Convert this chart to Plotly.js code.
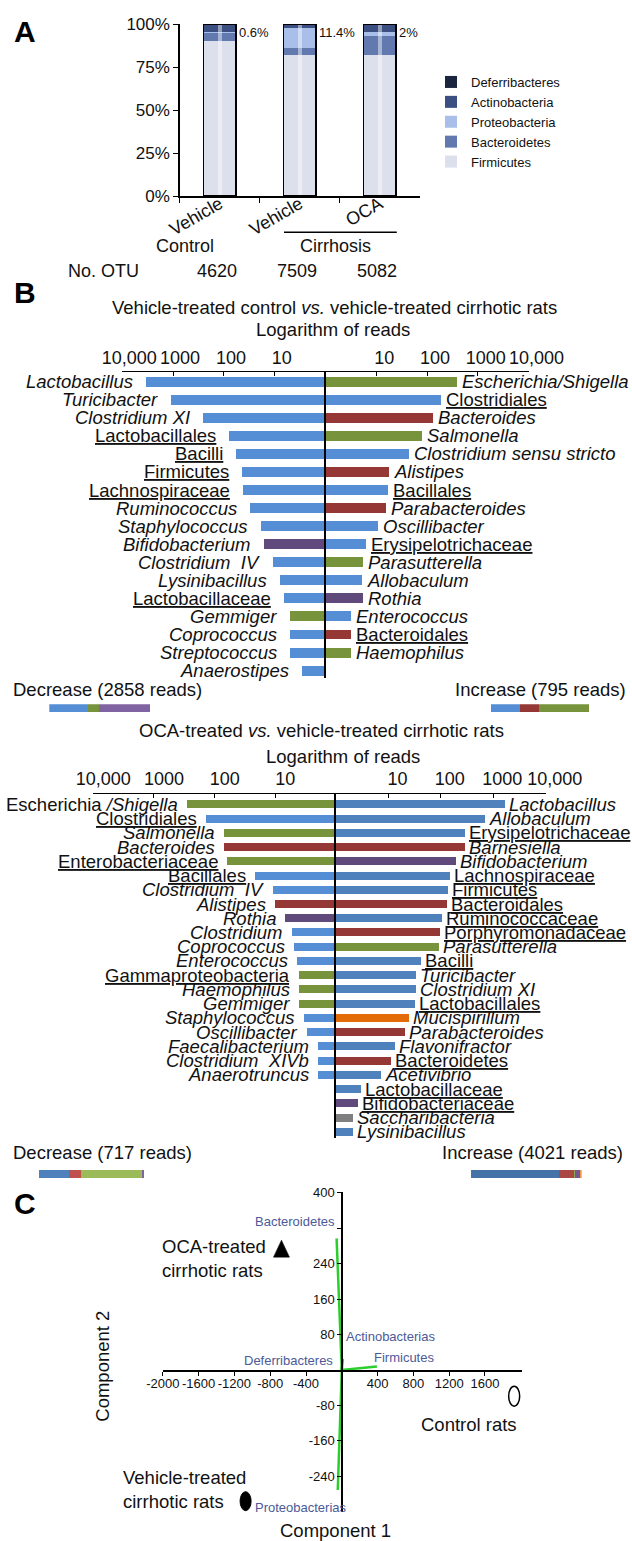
<!DOCTYPE html>
<html><head><meta charset="utf-8">
<script src="https://cdn.plot.ly/plotly-3.0.1.min.js"></script>
<style>html,body{margin:0;padding:0;background:#fff}</style>
</head><body>
<div id="chart" style="width:632px;height:1541px"></div>
<script>
// ================= DATA =================
// Panel A – relative abundance of phyla (%)
const groupsA = ['Vehicle', 'Vehicle\u200b', 'OCA'];
const phyla = ['Firmicutes', 'Bacteroidetes', 'Proteobacteria', 'Actinobacteria', 'Deferribacteres'];
const firmicutes      = [90.3, 82.0, 82.0];
const bacteroidetes   = [4.5, 4.0, 11.2];
const proteobacteria  = [0.6, 11.4, 2.0];
const actinobacteria  = [4.1, 1.8, 4.0];
const deferribacteres = [0.5, 0.8, 0.8];
const otuCounts = [4620, 7509, 5082];

// Panel B (top) – vehicle control vs vehicle cirrhotic
const b1DecTaxa = ['Lactobacillus','Turicibacter','Clostridium XI','Lactobacillales','Bacilli','Firmicutes','Lachnospiraceae','Ruminococcus','Staphylococcus','Bifidobacterium','Clostridium\u00a0 IV','Lysinibacillus','Lactobacillaceae','Gemmiger','Coprococcus','Streptococcus','Anaerostipes'];
const b1DecRank = ['g','g','g','h','h','h','h','g','g','g','g','g','h','g','g','g','g'];
const b1DecPhylum = ['Fi','Fi','Fi','Fi','Fi','Fi','Fi','Fi','Fi','Ac','Fi','Fi','Fi','Pr','Fi','Fi','Fi'];
const b1DecReads = [3370, 1120, 258, 80, 59, 45, 42, 30, 19, 16.5, 10.6, 7.8, 6.7, 4.9, 4.9, 4.9, 2.9];

const b1IncTaxa = ['Escherichia/Shigella','Clostridiales','Bacteroides','Salmonella','Clostridium sensu stricto','Alistipes','Bacillales','Parabacteroides','Oscillibacter','Erysipelotrichaceae','Parasutterella','Allobaculum','Rothia','Enterococcus','Bacteroidales','Haemophilus'];
const b1IncRank = ['g','h','g','g','g','g','h','g','g','h','g','g','g','g','h','g'];
const b1IncPhylum = ['Pr','Fi','Ba','Pr','Fi','Ba','Fi','Ba','Fi','Fi','Pr','Fi','Ac','Fi','Ba','Pr'];
const b1IncReads = [387, 190, 129, 79, 44, 17.6, 17, 15.5, 10.7, 6.2, 5.5, 5.2, 5.5, 3.2, 3.2, 3.2];

const b1DecTotal = 2858, b1IncTotal = 795;
const b1DecShare = [38.4, 10.8, 50.8];
const b1DecSharePhylum = ['Fi', 'Pr', 'Ac'];
const b1IncShare = [29.9, 19.3, 50.8];
const b1IncSharePhylum = ['Fi', 'Ba', 'Pr'];

// Panel B (bottom) – OCA vs vehicle cirrhotic
const b2DecTaxa = ['Escherichia /Shigella','Clostridiales','Salmonella','Bacteroides','Enterobacteriaceae','Bacillales','Clostridium\u00a0 IV','Alistipes','Rothia','Clostridium','Coprococcus','Enterococcus','Gammaproteobacteria','Haemophilus','Gemmiger','Staphylococcus','Oscillibacter','Faecalibacterium','Clostridium\u00a0 XIVb','Anaerotruncus'];
const b2DecRank = ['m','h','g','g','h','h','g','g','g','g','g','g','h','g','g','g','g','g','g','g'];
const b2DecPhylum = ['Pr','Fi','Pr','Ba','Pr','Fi','Fi','Ba','Ac','Fi','Fi','Fi','Pr','Pr','Pr','Fi','Fi','Fi','Fi','Fi'];
const b2DecReads = [286, 139, 69, 69, 62, 22, 11, 10.3, 6.9, 5.4, 5.0, 4.4, 4.0, 4.0, 4.0, 3.4, 3.0, 2.0, 2.0, 2.0];

const b2IncTaxa = ['Lactobacillus','Allobaculum','Erysipelotrichaceae','Barnesiella','Bifidobacterium','Lachnospiraceae','Firmicutes','Bacteroidales','Ruminococcaceae','Porphyromonadaceae','Parasutterella','Bacilli','Turicibacter','Clostridium XI','Lactobacillales','Mucispirillum','Parabacteroides','Flavonifractor','Bacteroidetes','Acetivibrio','Lactobacillaceae','Bifidobacteriaceae','Saccharibacteria','Lysinibacillus'];
const b2IncRank = ['g','g','h','g','g','h','h','h','h','h','g','h','g','g','h','g','g','g','h','g','h','h','g','g'];
const b2IncPhylum = ['Fi','Fi','Fi','Ba','Ac','Fi','Fi','Ba','Fi','Ba','Pr','Fi','Fi','Fi','Fi','De','Ba','Fi','Ba','Fi','Fi','Ac','Sa','Fi'];
const b2IncReads = [1665, 686, 293, 293, 198, 147, 139, 132, 105, 96, 91, 41.5, 33.6, 33.6, 32.4, 24.8, 20.4, 13.4, 11.2, 7.2, 3.05, 2.6, 2.07, 2.07];

const b2DecTotal = 717, b2IncTotal = 4021;
const b2DecShare = [28.6, 11.4, 57.8, 2.2];
const b2DecSharePhylum = ['Fi', 'Ba', 'Pr', 'Ac'];
const b2IncShare = [79.8, 13.0, 1.2, 4.5, 1.5];
const b2IncSharePhylum = ['Fi', 'Ba', 'Pr', 'Ac', 'De'];

// Panel C – PCA biplot
const loadNames = ['Bacteroidetes', 'Actinobacterias', 'Deferribacteres', 'Firmicutes', 'Proteobacterias'];
const loadX = [-58, 12, -12, 392, -45];
const loadY = [297, 25, 6, 8, -271];
const groupNames = ['OCA-treated<br>cirrhotic rats', 'Control rats', 'Vehicle-treated<br>cirrhotic rats'];
const groupX = [-674, 1926, -1075];
const groupY = [274, -59, -296];

// ================= STYLE / LAYOUT HELPERS =================
const W = 632, H = 1541;
const fx = p => p / W;
const fy = p => 1 - p / H;
const FAM = 'Arial, "Liberation Sans", Helvetica, sans-serif';
const INK = '#111';

const phylaColors = ['#dcdfec', '#6279b0', '#a9bfe9', '#3b4f82', '#1b2540'];
const colB1 = {Fi:'#558ed5', Pr:'#77933c', Ba:'#953735', Ac:'#604a7b'};
const colB2L = {Fi:'#558ed5', Pr:'#77933c', Ba:'#953735', Ac:'#604a7b'};
const colB2R = {Fi:'#4f81bd', Pr:'#77933c', Ba:'#953735', Ac:'#604a7b', De:'#e36c09', Sa:'#7f7f7f'};
const colP1 = {Fi:'#558ed5', Pr:'#77933c', Ba:'#953735', Ac:'#8064a2'};
const colP2D = {Fi:'#4f81bd', Pr:'#9bbb59', Ba:'#c0504d', Ac:'#8064a2'};
const colP2I = {Fi:'#4572a7', Pr:'#89a54e', Ba:'#aa4643', Ac:'#71588f', De:'#f79646'};

function fmtTaxon(name, rank) {
  if (rank === 'g') return '<i>' + name + '</i>';
  if (rank === 'm') { const k = name.indexOf(' /'); return name.slice(0, k) + '<i>' + name.slice(k) + '</i>'; }
  return '<span style="text-decoration:underline">' + name + '</span>';
}

const traces = [];
const annotations = [];
const shapes = [];

// ---- Panel A traces ----
const seriesA = [firmicutes, bacteroidetes, proteobacteria, actinobacteria, deferribacteres];
phyla.forEach((name, k) => {
  traces.push({type:'bar', name: name, x: groupsA, y: seriesA[k], xaxis:'x', yaxis:'y',
    width: 0.41, marker:{color: phylaColors[k], line:{width:0}}, hoverinfo:'skip'});
});
const totalsA = groupsA.map((_, i) => seriesA.reduce((s, arr) => s + arr[i], 0));
traces.push({type:'bar', x: groupsA, y: totalsA, base: totalsA.map(() => 0), xaxis:'x', yaxis:'y',
  width: 0.05, marker:{color:'rgba(255,255,255,0.45)', line:{width:0}}, showlegend:false, hoverinfo:'skip'});
traces.push({type:'bar', x: groupsA, y: totalsA, base: totalsA.map(() => 0), xaxis:'x', yaxis:'y',
  width: 0.41, marker:{color:'rgba(0,0,0,0)', line:{color:'#000', width:1.5}}, showlegend:false, hoverinfo:'skip'});

groupsA.forEach((g, i) => {
  annotations.push({xref:'x', yref:'y', x: i, y: 95.3, text: proteobacteria[i] + '%', showarrow:false,
    xanchor:'left', yanchor:'middle', xshift: 17, font:{size:13, family:FAM, color:INK}});
  annotations.push({xref:'x', yref:'paper', x: i, y: fy(270.7), text: String(otuCounts[i]), showarrow:false,
    xanchor:'center', yanchor:'middle', xshift: -3, font:{size:18, family:FAM, color:INK}});
});

function txt(x, y, text, size, xanchor, extra) {
  annotations.push(Object.assign({xref:'paper', yref:'paper', x: fx(x), y: fy(y), text: text, showarrow:false,
    xanchor: xanchor || 'center', yanchor:'middle', font:{size:size, family:FAM, color:INK}}, extra || {}));
}
txt(185.3, 246, 'Control', 18);
txt(335.8, 246, 'Cirrhosis', 18);
txt(103, 270.7, 'No. OTU', 18);
shapes.push({type:'line', xref:'paper', yref:'paper', x0: fx(284), x1: fx(396.8), y0: fy(232.3), y1: fy(232.3), line:{color:'#000', width:1.5}});

// panel letters
[['A', 32], ['B', 293], ['C', 1203]].forEach(([t, y]) => txt(25, y, '<b>' + t + '</b>', 30, 'center', {font:{size:30, family:FAM, color:'#000'}}));

// ---- Panel B helpers ----
function sideBars(reads, phylum, colors, xa, ya, w) {
  return {type:'bar', orientation:'h', xaxis:xa, yaxis:ya, x: reads.map(v => v - 1), base: 1,
    y: reads.map((_, i) => i), width: w, marker:{color: phylum.map(p => colors[p]), line:{width:0}},
    showlegend:false, hoverinfo:'skip'};
}
function sideLabels(taxa, ranks, reads, xa, ya, left, shift) {
  taxa.forEach((t, i) => annotations.push({xref:xa, yref:ya, x: Math.log10(reads[i]), y: i,
    text: fmtTaxon(t, ranks[i]), showarrow:false, xanchor: left ? 'right' : 'left', yanchor:'middle', xshift: shift,
    font:{size:18.5, family:FAM, color:INK}}));
}
function shareBar(share, phylum, colors, xa, ya) {
  return {type:'bar', orientation:'h', xaxis:xa, yaxis:ya, x: share, y: share.map(() => 0), width: 1,
    marker:{color: phylum.map(p => colors[p]), line:{width:0}}, showlegend:false, hoverinfo:'skip'};
}

traces.push(sideBars(b1DecReads, b1DecPhylum, colB1, 'x2', 'y2', 0.55));
traces.push(sideBars(b1IncReads, b1IncPhylum, colB1, 'x3', 'y3', 0.55));
sideLabels(b1DecTaxa, b1DecRank, b1DecReads, 'x2', 'y2', true, -11);
sideLabels(b1IncTaxa, b1IncRank, b1IncReads, 'x3', 'y3', false, 3);
traces.push(shareBar(b1DecShare, b1DecSharePhylum, colP1, 'x4', 'y4'));
traces.push(shareBar(b1IncShare, b1IncSharePhylum, colP1, 'x5', 'y5'));

traces.push(sideBars(b2DecReads, b2DecPhylum, colB2L, 'x6', 'y6', 0.56));
traces.push(sideBars(b2IncReads, b2IncPhylum, colB2R, 'x7', 'y7', 0.56));
sideLabels(b2DecTaxa, b2DecRank, b2DecReads, 'x6', 'y6', true, -7);
sideLabels(b2IncTaxa, b2IncRank, b2IncReads, 'x7', 'y7', false, 2);
traces.push(shareBar(b2DecShare, b2DecSharePhylum, colP2D, 'x8', 'y8'));
traces.push(shareBar(b2IncShare, b2IncSharePhylum, colP2I, 'x9', 'y9'));

txt(334.4, 307.7, 'Vehicle-treated control <i>vs.</i> vehicle-treated cirrhotic rats', 18.5);
txt(333, 329, 'Logarithm of reads', 18.5);
txt(11, 690, 'Decrease (' + b1DecTotal + ' reads)', 18.5, 'left');
txt(628, 690, 'Increase (' + b1IncTotal + ' reads)', 18.5, 'right');
txt(321, 730, 'OCA-treated <i>vs.</i> vehicle-treated cirrhotic rats', 18.5);
txt(343, 756.7, 'Logarithm of reads', 18.5);
txt(11, 1152.7, 'Decrease (' + b2DecTotal + ' reads)', 18.5, 'left');
txt(625, 1152.7, 'Increase (' + b2IncTotal + ' reads)', 18.5, 'right');

// ---- Panel C ----
const vecX = [], vecY = [];
loadX.forEach((v, i) => { vecX.push(0, v, null); vecY.push(0, loadY[i], null); });
traces.push({type:'scatter', mode:'lines', xaxis:'x10', yaxis:'y10', x: vecX, y: vecY,
  line:{color:'#2bcf2b', width:2.5}, cliponaxis:false, showlegend:false, hoverinfo:'skip'});
// group scores (glyphs drawn as shapes anchored on these data points)
traces.push({type:'scatter', mode:'markers', xaxis:'x10', yaxis:'y10', x: groupX, y: groupY,
  marker:{symbol:['triangle-up','circle','circle'], size:12, color:'#000', opacity:0},
  cliponaxis:false, showlegend:false, hoverinfo:'skip'});
const pix = {xref:'x10', yref:'y10', xsizemode:'pixel', ysizemode:'pixel'};
shapes.push(Object.assign({type:'path', xanchor: groupX[0], yanchor: groupY[0],
  path:'M-8,-8.5L8,-8.5L0,8.5Z', fillcolor:'#000', line:{color:'#000', width:0.5}}, pix));
shapes.push(Object.assign({type:'circle', xanchor: groupX[1], yanchor: groupY[1], x0:-5.5, x1:5.5, y0:-10, y1:10,
  line:{color:'#000', width:1.5}, fillcolor:'#fff'}, pix));
shapes.push(Object.assign({type:'circle', xanchor: groupX[2], yanchor: groupY[2], x0:-5.5, x1:5.5, y0:-9.5, y1:9.5,
  line:{color:'#000', width:1}, fillcolor:'#000'}, pix));

const LC = '#4b5a98';
const loadLabelPos = [[337.4, 1221.7, 'right'], [344.2, 1336.7, 'left'], [334.5, 1360.7, 'right'], [371.7, 1357.3, 'left'], [253.3, 1507.7, 'left']];
loadNames.forEach((n, i) => {
  const p = loadLabelPos[i];
  txt(p[0], p[1], n, 13, p[2], {font:{size:13, family:FAM, color:LC}});
});
txt(159.6, 1258.7, groupNames[0], 18.5, 'left', {align:'left'});
txt(519.2, 1424, groupNames[1], 18.5, 'right');
txt(121.2, 1489.2, groupNames[2], 18.5, 'left', {align:'left'});
txt(103, 1366.7, 'Component 2', 18.5, 'center', {textangle:-90});
txt(336, 1530, 'Component 1', 18.5);

// ================= AXES =================
const hiddenAx = {visible:false, fixedrange:true};
const tickVals = [10, 100, 1000, 10000];
const tickText = ['10', '100', '1000', '10,000'];
function logTop(domain, range, anchor, shift) {
  return {domain: domain, range: range, type:'log', anchor: anchor, side:'top', showline:true, linecolor:'#000',
    linewidth:1.5, ticks:'inside', ticklen:4, tickcolor:'#000', tickvals: tickVals, ticktext: tickText,
    tickfont:{size:18, family:FAM, color:INK}, showgrid:false, zeroline:false, fixedrange:true, ticklabelshift: shift};
}
function rowAxis(domain, range, anchor, line) {
  return {domain: domain, range: range, anchor: anchor, showline: !!line, linecolor:'#000', linewidth:2,
    showticklabels:false, ticks:'', showgrid:false, zeroline:false, fixedrange:true};
}
function hid(dx, dy, xr, yr) { return [Object.assign({domain: dx, range: xr}, hiddenAx), Object.assign({domain: dy, range: yr}, hiddenAx)]; }

const layout = {
  width: W, height: H, margin:{l:0, r:0, t:0, b:0},
  paper_bgcolor:'#fff', plot_bgcolor:'rgba(0,0,0,0)',
  font:{family:FAM, color:INK}, barmode:'stack', bargap:0,
  showlegend:true,
  legend:{x: fx(431), y: fy(67), xanchor:'left', yanchor:'top', traceorder:'reversed', bgcolor:'rgba(0,0,0,0)',
    font:{size:13, family:FAM, color:INK}, itemwidth:30, tracegroupgap:0, itemclick:false, itemdoubleclick:false},
  xaxis:{domain:[fx(179.8), fx(419.6)], anchor:'y', type:'category', categoryorder:'array', categoryarray: groupsA,
    range:[-0.5, 2.5], tickson:'boundaries', ticks:'outside', ticklen:5, tickcolor:'#000', tickangle:-30,
    ticklabelstandoff:-11,
    showline:true, linecolor:'#000', linewidth:1.5, tickfont:{size:18, family:FAM, color:INK},
    showgrid:false, zeroline:false, fixedrange:true},
  yaxis:{domain:[fy(196), fy(24)], anchor:'x', range:[0, 100], tickvals:[0, 25, 50, 75, 100],
    ticktext:['0%', '25%', '50%', '75%', '100%'], ticks:'outside', ticklen:5, tickcolor:'#000',
    showline:true, linecolor:'#000', linewidth:1.5, tickfont:{size:17, family:FAM, color:INK},
    showgrid:false, zeroline:false, fixedrange:true},
  xaxis2: logTop([fx(122.3), fx(325.5)], [4, 0], 'y2', -7),
  yaxis2: rowAxis([fy(678), fy(372.3)], [16.41, -0.52], 'x2', false),
  xaxis3: logTop([fx(325.5), fx(528.5)], [0, 4], 'y3', 8),
  yaxis3: rowAxis([fy(678), fy(372.3)], [16.41, -0.52], 'x3', true),
  xaxis6: logTop([fx(93.3), fx(336)], [4, 0], 'y6', -10),
  yaxis6: rowAxis([fy(1138), fy(794)], [23.43, -0.723], 'x6', false),
  xaxis7: logTop([fx(336), fx(545.7)], [0, 4], 'y7', 9),
  yaxis7: rowAxis([fy(1138), fy(794)], [23.43, -0.723], 'x7', true),
  xaxis10:{domain:[fx(162.8), fx(522.4)], range:[-2000, 2018], anchor:'free', position: fy(1370),
    showline:true, linecolor:'#000', linewidth:1.5, ticks:'outside', ticklen:4, tickcolor:'#000',
    ticklabelstandoff:-3,
    tickvals:[-2000, -1600, -1200, -800, -400, 400, 800, 1200, 1600],
    ticktext:['-2000', '-1600', '-1200', '-800', '-400', '400', '800', '1200', '1600'],
    tickfont:{size:13, family:FAM, color:INK}, showgrid:false, zeroline:false, fixedrange:true},
  yaxis10:{domain:[fy(1512), fy(1191.7)], range:[-320.5, 402.5], anchor:'free', position: fx(341.4),
    showline:true, linecolor:'#000', linewidth:1.5, ticks:'outside', ticklen:4, tickcolor:'#000',
    tickvals:[-240, -160, -80, 80, 160, 240, 320, 400], ticktext:['-240', '-160', '-80', '80', '160', '240', '', '400'],
    tickfont:{size:13, family:FAM, color:INK}, showgrid:false, zeroline:false, fixedrange:true},
  annotations: annotations,
  shapes: shapes
};
let a;
a = hid([fx(49.3), fx(150.3)], [fy(712.3), fy(704.3)], [0, 100], [-0.5, 0.5]); layout.xaxis4 = Object.assign(a[0], {anchor:'y4'}); layout.yaxis4 = Object.assign(a[1], {anchor:'x4'});
a = hid([fx(490.9), fx(589.5)], [fy(712.3), fy(704.3)], [0, 100], [-0.5, 0.5]); layout.xaxis5 = Object.assign(a[0], {anchor:'y5'}); layout.yaxis5 = Object.assign(a[1], {anchor:'x5'});
a = hid([fx(39), fx(144)], [fy(1178), fy(1170)], [0, 100], [-0.5, 0.5]); layout.xaxis8 = Object.assign(a[0], {anchor:'y8'}); layout.yaxis8 = Object.assign(a[1], {anchor:'x8'});
a = hid([fx(470.7), fx(581.7)], [fy(1178), fy(1170)], [0, 100], [-0.5, 0.5]); layout.xaxis9 = Object.assign(a[0], {anchor:'y9'}); layout.yaxis9 = Object.assign(a[1], {anchor:'x9'});

Plotly.newPlot('chart', traces, layout, {displayModeBar:false, staticPlot:true});
</script>
</body></html>
